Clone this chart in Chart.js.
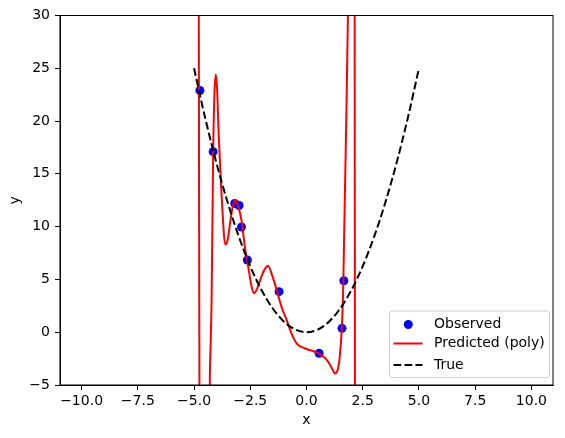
<!DOCTYPE html>
<html>
<head>
<meta charset="utf-8">
<script src="https://cdn.jsdelivr.net/npm/chart.js@4.4.1/dist/chart.umd.min.js"></script>
<style>
  body { margin: 0; background: #fff; }
  #chart { display: block; }
</style>
</head>
<body>
<canvas id="chart" width="565" height="438"></canvas>
<script>
// observed points
const obsX = [-4.74, -4.15, -3.19, -3.00, -2.89, -2.63, -1.22, 0.56, 1.58, 1.66];
const obsY = [22.9, 17.1, 12.2, 12.0, 9.97, 6.84, 3.84, -2.0, 0.37, 4.88];

// predicted polynomial (goes off-scale at both ends)
const predX = [-5.0, -4.9, -4.82, -4.79, -4.775, -4.76, -4.72, -4.6, -4.45, -4.34, -4.30, -4.26, -4.22, -4.15, -4.09,
  -4.03, -3.97, -3.9, -3.78, -3.66, -3.6, -3.5, -3.4, -3.28, -3.16, -3.02, -2.89, -2.74, -2.59, -2.44, -2.33,
  -2.2, -2.0, -1.85, -1.71, -1.56, -1.41, -1.26, -1.11, -0.89, -0.67, -0.44, -0.08, 0.37, 0.67, 0.96, 1.15,
  1.26, 1.38, 1.48, 1.58, 1.63, 1.67, 1.75, 1.85, 2.0, 2.14, 2.155, 2.25, 2.4];
const predY = [400, 150, 60, 31, 12, -6, -20, -45, -50, -20, -5, -1, 3, 17, 22.8,
  24.4, 22.8, 18.5, 13.2, 9.0, 8.3, 8.8, 10.3, 11.9, 12.5, 11.8, 10.6, 8.1, 6.2, 4.3, 3.7,
  4.1, 5.3, 6.0, 6.3, 5.6, 4.6, 3.5, 2.4, 1.2, -0.1, -1.05, -1.52, -1.85, -2.16, -2.79, -3.5,
  -3.9, -3.6, -2.3, 0.8, 4.0, 8.7, 18, 31, 60, 31, -6, -40, -100];

// true curve
const trueX = [-5, -4.5, -4, -3.5, -3, -2.5, -2, -1.5, -1, -0.5, 0, 0.5, 1, 1.5, 2, 2.5, 3, 3.5, 4, 4.5, 5];
const trueY = [25, 20.25, 16, 12.25, 9, 6.25, 4, 2.25, 1, 0.25, 0, 0.25, 1, 2.25, 4, 6.25, 9, 12.25, 16, 20.25, 25];

const xTicks = [-10, -7.5, -5, -2.5, 0, 2.5, 5, 7.5, 10];
const yTicks = [-5, 0, 5, 10, 15, 20, 25, 30];

const legendNames = ['Observed', 'Predicted (poly)', 'True'];

const FONT = 'DejaVu Sans';
const DASH = [7.7, 3.3];

function pts(xs, ys) {
  return xs.map((x, i) => ({ x: x, y: ys[i] }));
}
function minus(v, digits) {
  return v.toFixed(digits).replace('-', '\u2212');
}

// frame + legend in the lower right, matplotlib style
const framePlugin = {
  id: 'frameLegend',
  afterDatasetsDraw(chart) {
    const { ctx, chartArea: a } = chart;
    ctx.save();
    ctx.strokeStyle = '#000';
    ctx.lineWidth = 1;
    ctx.strokeRect(a.left, a.top, a.right - a.left, a.bottom - a.top);
    ctx.restore();
  },
  afterDraw(chart) {
    const ctx = chart.ctx;
    const bx = 389.5, by = 311, bw = 160, bh = 66.5, r = 3;
    ctx.save();
    ctx.beginPath();
    ctx.roundRect(bx, by, bw, bh, r);
    ctx.fillStyle = 'rgba(255,255,255,0.8)';
    ctx.fill();
    ctx.strokeStyle = '#cccccc';
    ctx.lineWidth = 1;
    ctx.stroke();

    const rows = [324.5, 343.5, 365];
    // marker
    ctx.beginPath();
    ctx.arc(408.3, rows[0], 4.5, 0, Math.PI * 2);
    ctx.fillStyle = '#0000ff';
    ctx.fill();
    // red line
    ctx.beginPath();
    ctx.moveTo(393.5, rows[1]);
    ctx.lineTo(422.5, rows[1]);
    ctx.strokeStyle = '#ff0000';
    ctx.lineWidth = 2;
    ctx.stroke();
    // dashed
    ctx.beginPath();
    ctx.setLineDash(DASH);
    ctx.moveTo(393.5, rows[2]);
    ctx.lineTo(422.5, rows[2]);
    ctx.strokeStyle = '#000';
    ctx.stroke();
    ctx.setLineDash([]);

    ctx.fillStyle = '#000';
    ctx.font = '14px "' + FONT + '"';
    ctx.textBaseline = 'middle';
    legendNames.forEach((t, i) => ctx.fillText(t, 434, rows[i]));
    ctx.restore();
  }
};

new Chart(document.getElementById('chart'), {
  type: 'scatter',
  data: {
    datasets: [
      {
        label: legendNames[2],
        data: pts(trueX, trueY),
        showLine: true,
        borderColor: '#000',
        borderWidth: 2,
        borderDash: DASH,
        pointRadius: 0,
        cubicInterpolationMode: 'monotone',
        clip: 0,
        order: 1
      },
      {
        label: legendNames[1],
        data: pts(predX, predY),
        showLine: true,
        borderColor: '#ff0000',
        borderWidth: 2,
        pointRadius: 0,
        cubicInterpolationMode: 'monotone',
        clip: 0,
        order: 2
      },
      {
        label: legendNames[0],
        data: pts(obsX, obsY),
        backgroundColor: '#0000ff',
        borderColor: '#0000ff',
        borderWidth: 0,
        pointRadius: 4.5,
        order: 3
      }
    ]
  },
  options: {
    responsive: false,
    animation: false,
    devicePixelRatio: 1,
    layout: { padding: { left: 0, right: 12, top: 15.5, bottom: 0 } },
    plugins: { legend: { display: false }, tooltip: { enabled: false } },
    scales: {
      x: {
        type: 'linear',
        min: -10.96,
        max: 10.96,
        afterFit: s => { s.height = 53; },
        afterBuildTicks: s => { s.ticks = xTicks.map(v => ({ value: v })); },
        grid: { drawOnChartArea: false, drawTicks: true, tickLength: 5, color: '#000' },
        border: { color: '#000', width: 1 },
        ticks: {
          color: '#000',
          padding: 3,
          maxRotation: 0,
          font: { family: FONT, size: 14 },
          callback: v => minus(v, 1)
        },
        title: { display: true, text: 'x', color: '#000', font: { family: FONT, size: 14 }, padding: { top: 0, bottom: 9 } }
      },
      y: {
        type: 'linear',
        min: -5,
        max: 30,
        afterFit: s => { s.width = 60; },
        afterBuildTicks: s => { s.ticks = yTicks.map(v => ({ value: v })); },
        grid: { drawOnChartArea: false, drawTicks: true, tickLength: 5, color: '#000' },
        border: { color: '#000', width: 1 },
        ticks: {
          color: '#000',
          padding: 5,
          font: { family: FONT, size: 14 },
          callback: v => minus(v, 0)
        },
        title: { display: true, text: 'y', color: '#000', font: { family: FONT, size: 14 }, padding: { top: 7, bottom: 0 } }
      }
    }
  },
  plugins: [framePlugin]
});
</script>
</body>
</html>
